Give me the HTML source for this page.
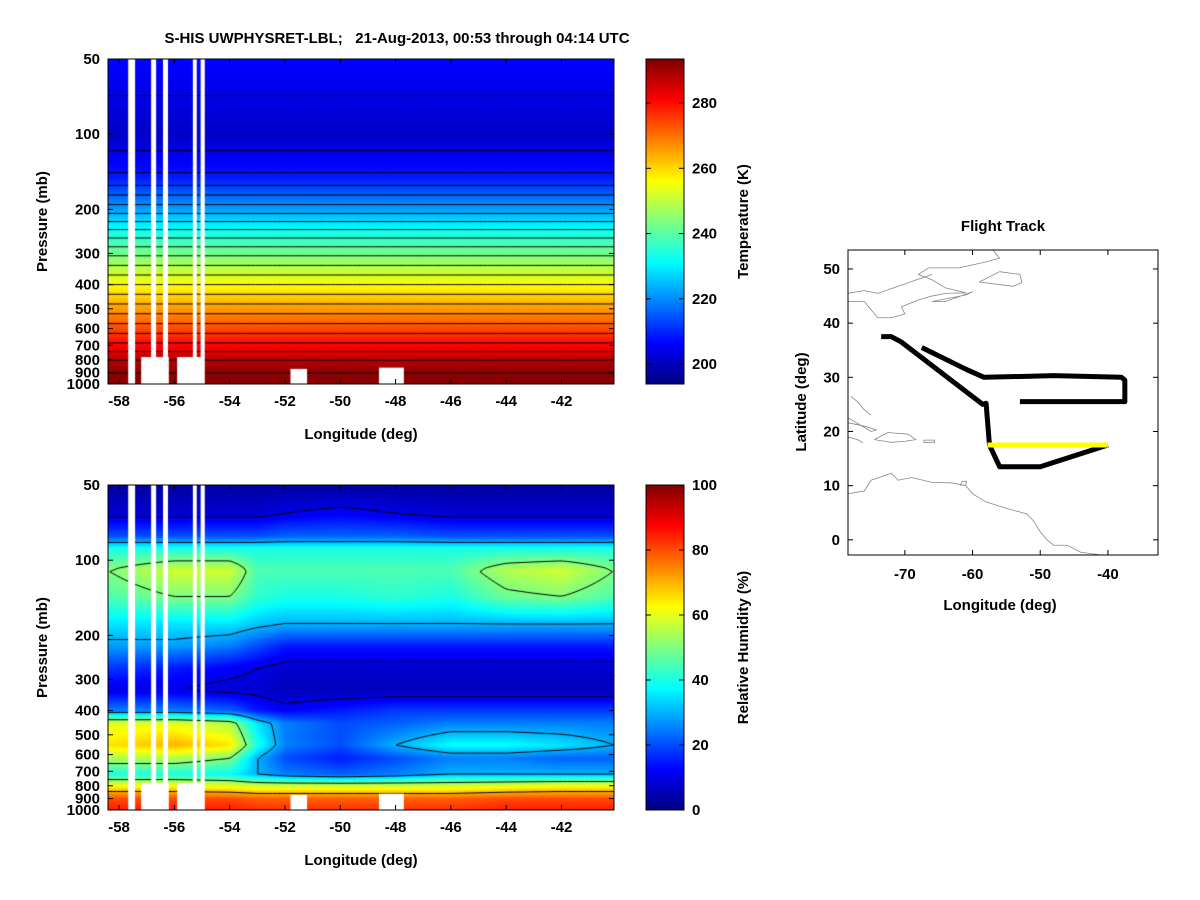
<!DOCTYPE html>
<html><head><meta charset="utf-8"><style>
body{margin:0;background:#fff;width:1200px;height:900px;overflow:hidden;font-family:"Liberation Sans",sans-serif}
canvas{position:absolute}
svg{position:absolute;left:0;top:0}
text{font-family:"Liberation Sans",sans-serif;font-weight:bold;font-size:15px;fill:#000}
</style></head><body>
<canvas id="cT" width="506" height="325" style="left:108px;top:59px"></canvas>
<canvas id="cR" width="506" height="325" style="left:108px;top:485px"></canvas>
<canvas id="cbT" width="38" height="325" style="left:646px;top:59px"></canvas>
<canvas id="cbR" width="38" height="325" style="left:646px;top:485px"></canvas>
<svg id="s" width="1200" height="900"></svg>
<script>
// ---- data ----
const lonCols=[-58.4,-56,-54,-53,-52,-50,-48,-46,-44,-42,-40.1];
const tPress=[50,70,100,150,200,250,300,400,500,600,700,800,900,1000];
const tVals=[207,204,201,209,222,234,243,256,266,274,281,288,292,293];
const rhPress=[50,65,80,90,110,140,180,220,270,330,400,450,550,620,720,800,900,1000];
const rhVals=[
[3,3,3,3,3,3,3,3,3,3,3],
[8,8,8,8,10,12,10,8,8,8,8],
[20,20,20,20,22,22,22,20,20,20,20],
[40,40,40,40,40,40,40,40,40,40,40],
[50,58,58,45,45,45,45,45,55,58,50],
[45,50,50,42,40,40,42,40,48,50,45],
[35,35,35,32,30,30,30,30,30,30,30],
[28,28,25,20,15,15,15,15,15,15,15],
[18,15,12,10,8,8,8,8,8,8,8],
[10,10,8,8,6,6,6,6,6,6,6],
[25,25,22,15,12,15,18,18,18,18,18],
[60,60,55,35,25,20,22,25,25,25,25],
[65,70,65,40,25,20,30,38,38,35,30],
[55,55,50,30,20,15,20,25,25,22,22],
[40,40,38,30,25,22,25,30,30,30,30],
[62,62,60,58,58,58,58,58,60,62,62],
[80,80,80,78,78,78,78,78,80,80,80],
[85,85,85,83,83,83,83,83,85,85,85]];
const pTicks=[50,100,200,300,400,500,600,700,800,900,1000];
const lonTicks=[-58,-56,-54,-52,-50,-48,-46,-44,-42];
const tTicks=[200,220,240,260,280];
const rhTicks=[0,20,40,60,80,100];
const tLevels=[200,204,208,212,216,220,224,228,232,236,240,244,248,252,256,260,264,268,272,276,280,284,288,292];
const rhLevels=[10,30,50,70];
const gapsLon=[[-57.67,-57.42],[-56.84,-56.66],[-56.41,-56.23],[-55.33,-55.19],[-55.05,-54.90]];
const trackA=[[-73.5,37.5],[-72,37.5],[-70.5,36.5],[-58.5,25],[-58,25.2],[-57.5,17.5],[-56,13.5],[-50,13.5],[-40,17.5]];
const trackB=[[-67.5,35.5],[-61,31.5],[-58.3,30],[-48,30.3],[-38,30],[-37.5,29.5],[-37.5,25.5],[-53,25.5]];
const trackY=[[-57.8,17.5],[-40,17.5]];
const coasts=[
[[-78.4,44],[-76,44],[-74,41],[-72,41],[-70,41.7],[-70.5,43],[-68,44.3],[-66,45],[-64,45.5],[-61,45.6],[-64,46.5],[-66,48],[-68,49],[-66.5,50.2],[-62,50.2],[-58,51.3],[-56,52],[-57,53.5]],
[[-64,44],[-66,44],[-61,45.2],[-60,45.8],[-64,44]],
[[-59,47.6],[-56,49.5],[-53,49],[-52.7,47.5],[-54,46.8],[-59,47.6]],
[[-78.4,45.5],[-76,46],[-74,45.5],[-71,46.8],[-66,49]],
[[-78.4,22.5],[-77,21.5],[-75,20],[-74.2,20.3],[-76,21],[-78.4,21.6]],
[[-74.5,18.5],[-72.5,19.8],[-69.5,19.5],[-68.4,18.5],[-70,18.2],[-72,18],[-74.5,18.5]],
[[-67.2,18.4],[-65.6,18.4],[-65.6,18],[-67.2,18],[-67.2,18.4]],
[[-78,26.5],[-77,25.5],[-76,24],[-75,23]],
[[-78.4,19],[-77,18.5],[-76.2,17.9]],
[[-78.4,8.5],[-76,9],[-75,11],[-72,12.3],[-71,11],[-69,11.5],[-66,10.6],[-63,10.5],[-61,10],[-60,8.5],[-58,7],[-55,5.8],[-52,4.8],[-51,3.5],[-50,1.5],[-49,0],[-48,-1],[-46,-1],[-44,-2.3],[-41,-2.8],[-39,-3]],
[[-61.5,10.8],[-60.9,10.8],[-61,10.1],[-61.8,10.1],[-61.5,10.8]]
];
// ---- helpers ----
function jet(t){t=Math.max(0,Math.min(1,t));const c=v=>Math.round(255*Math.max(0,Math.min(1,v)));
return [c(1.5-Math.abs(4*t-3)),c(1.5-Math.abs(4*t-2)),c(1.5-Math.abs(4*t-1))];}
const W=506,H=325,lonMin=-58.4,lonMax=-40.1,lp0=Math.log10(50),lp1=Math.log10(1000);
const xL=l=>(l-lonMin)/(lonMax-lonMin)*W;
const yP=p=>(Math.log10(p)-lp0)/(lp1-lp0)*H;
function bracket(arr,v,f){let i=0;while(i<arr.length-2&&v>arr[i+1])i++;
const a=f?f(arr[i]):arr[i],b=f?f(arr[i+1]):arr[i+1],vv=f?f(v):v;let t=(vv-a)/(b-a);t=Math.max(0,Math.min(1,t));return [i,t];}
function fT(lon,p){const [i,t]=bracket(tPress,p,Math.log);return tVals[i]*(1-t)+tVals[i+1]*t;}
function fR(lon,p){const [i,t]=bracket(rhPress,p,Math.log);const [j,u]=bracket(lonCols,lon);
const a=rhVals[i][j]*(1-u)+rhVals[i][j+1]*u,b=rhVals[i+1][j]*(1-u)+rhVals[i+1][j+1]*u;return a*(1-t)+b*t;}
function paint(id,f,vmin,vmax){const cv=document.getElementById(id),ctx=cv.getContext('2d');const img=ctx.createImageData(W,H);
for(let y=0;y<H;y++){const p=Math.pow(10,lp0+(y+0.5)/H*(lp1-lp0));for(let x=0;x<W;x++){const lon=lonMin+(x+0.5)/W*(lonMax-lonMin);
const c=jet((f(lon,p)-vmin)/(vmax-vmin));const k=(y*W+x)*4;img.data[k]=c[0];img.data[k+1]=c[1];img.data[k+2]=c[2];img.data[k+3]=255;}}
ctx.putImageData(img,0,0);
const levels=id==='cT'?tLevels:rhLevels;const nx=120,ny=90;const G=[];
for(let j=0;j<=ny;j++){G.push([]);const p=Math.pow(10,lp0+j/ny*(lp1-lp0));for(let i=0;i<=nx;i++)G[j].push(f(lonMin+i/nx*(lonMax-lonMin),p));}
ctx.strokeStyle='#000';ctx.lineWidth=1;ctx.beginPath();
const dx=W/nx,dy=H/ny;
for(const L of levels){for(let j=0;j<ny;j++)for(let i=0;i<nx;i++){
const v=[G[j][i],G[j][i+1],G[j+1][i+1],G[j+1][i]];const c=[[i,j],[i+1,j],[i+1,j+1],[i,j+1]];const pts=[];
for(let e=0;e<4;e++){const a=v[e],b=v[(e+1)%4];if((a-L)*(b-L)<0){const t=(L-a)/(b-a);const A=c[e],B=c[(e+1)%4];
pts.push([(A[0]+(B[0]-A[0])*t)*dx,(A[1]+(B[1]-A[1])*t)*dy]);}}
for(let k=0;k+1<pts.length;k+=2){ctx.moveTo(pts[k][0],pts[k][1]);ctx.lineTo(pts[k+1][0],pts[k+1][1]);}}}
ctx.stroke();
ctx.fillStyle='#fff';for(const g of gapsLon){ctx.fillRect(xL(g[0]),0,xL(g[1])-xL(g[0]),H);}
const blobs=[[-57.2,-56.2,780],[-55.9,-55.0,780],[-48.6,-47.7,860],[-51.8,-51.2,870]];
for(const b of blobs){ctx.fillRect(xL(b[0]),yP(b[2]),xL(b[1])-xL(b[0]),H-yP(b[2]));}
}
paint('cT',fT,193.9,293.5);paint('cR',fR,0,100);
function cbar(id){const ctx=document.getElementById(id).getContext('2d');for(let y=0;y<H;y++){const c=jet(1-(y+0.5)/H);ctx.fillStyle=`rgb(${c})`;ctx.fillRect(0,y,38,1);}}
cbar('cbT');cbar('cbR');
// ---- SVG overlay ----
const S=document.getElementById('s'),NS='http://www.w3.org/2000/svg';
function el(tag,attrs,txt){const e=document.createElementNS(NS,tag);for(const k in attrs)e.setAttribute(k,attrs[k]);if(txt!==undefined)e.textContent=txt;S.appendChild(e);return e;}
let e=el('text',{x:397,y:43,'text-anchor':'middle','font-size':16},'S-HIS UWPHYSRET-LBL;   21-Aug-2013, 00:53 through 04:14 UTC');


e.style.whiteSpace='pre';
function panel(top,name,cbTicks,cbMin,cbMax,cbLabel){
const L=108,T=top;
e=el('rect',{x:L,y:T,width:W,height:H,fill:'none',stroke:'#000','stroke-width':1});


for(const p of pTicks){const y=T+yP(p);
el('line',{x1:L,x2:L+5,y1:y,y2:y,stroke:'#000'});el('line',{x1:L+W-5,x2:L+W,y1:y,y2:y,stroke:'#000'});
e=el('text',{x:L-8,y:y+5,'text-anchor':'end'},p);

}
for(const l of lonTicks){const x=L+xL(l);
el('line',{x1:x,x2:x,y1:T+H,y2:T+H-5,stroke:'#000'});el('line',{x1:x,x2:x,y1:T,y2:T+5,stroke:'#000'});
e=el('text',{x:x,y:T+H+22,'text-anchor':'middle'},l);

}
e=el('text',{x:361,y:T+H+55,'text-anchor':'middle','font-size':16},'Longitude (deg)');


e=el('text',{transform:`translate(47,${T+H/2}) rotate(-90)`,'text-anchor':'middle','font-size':16},'Pressure (mb)');


el('rect',{x:646,y:T,width:38,height:H,fill:'none',stroke:'#000'});
for(const v of cbTicks){const y=T+H-(v-cbMin)/(cbMax-cbMin)*H;
el('line',{x1:684,x2:679,y1:y,y2:y,stroke:'#000'});el('line',{x1:646,x2:651,y1:y,y2:y,stroke:'#000'});
e=el('text',{x:692,y:y+5},v);

}
e=el('text',{transform:`translate(748,${T+H/2}) rotate(-90)`,'text-anchor':'middle','font-size':16},cbLabel);


}
panel(59,'temperature',tTicks,193.9,293.5,'Temperature (K)');
panel(485,'humidity',rhTicks,0,100,'Relative Humidity (%)');
// flight track map
const mL=848,mT=250,mW=310,mH=305,mlon0=-78.4,mlon1=-32.6,mlat0=-2.8,mlat1=53.5;
const mx=l=>mL+(l-mlon0)/(mlon1-mlon0)*mW,my=a=>mT+(mlat1-a)/(mlat1-mlat0)*mH;
const cp=el('clipPath',{id:'mclip'});const cr=document.createElementNS(NS,'rect');
cr.setAttribute('x',mL);cr.setAttribute('y',mT);cr.setAttribute('width',mW);cr.setAttribute('height',mH);cp.appendChild(cr);
const cg=el('g',{'clip-path':'url(#mclip)'});
for(const c of coasts){const p=document.createElementNS(NS,'polyline');p.setAttribute('points',c.map(q=>mx(q[0])+','+my(q[1])).join(' '));
p.setAttribute('fill','none');p.setAttribute('stroke','#888');p.setAttribute('stroke-width','0.8');

cg.appendChild(p);}
function track(pts,col,nm){const p=document.createElementNS(NS,'polyline');p.setAttribute('points',pts.map(q=>mx(q[0])+','+my(q[1])).join(' '));
p.setAttribute('fill','none');p.setAttribute('stroke',col);p.setAttribute('stroke-width','5');p.setAttribute('stroke-linejoin','round');

cg.appendChild(p);}
track(trackA,'#000','flight-track-leg-1');track(trackB,'#000','flight-track-leg-2');track(trackY,'#ffff00','flight-track-highlight');
e=el('rect',{x:mL,y:mT,width:mW,height:mH,fill:'none',stroke:'#000'});


for(const l of [-70,-60,-50,-40]){const x=mx(l);el('line',{x1:x,x2:x,y1:mT+mH,y2:mT+mH-5,stroke:'#000'});el('line',{x1:x,x2:x,y1:mT,y2:mT+5,stroke:'#000'});
e=el('text',{x:x,y:mT+mH+24,'text-anchor':'middle'},l);

}
for(const a of [0,10,20,30,40,50]){const y=my(a);el('line',{x1:mL,x2:mL+5,y1:y,y2:y,stroke:'#000'});el('line',{x1:mL+mW,x2:mL+mW-5,y1:y,y2:y,stroke:'#000'});
e=el('text',{x:mL-8,y:y+5,'text-anchor':'end'},a);

}
e=el('text',{x:1003,y:231,'text-anchor':'middle','font-size':16},'Flight Track');


e=el('text',{x:1000,y:610,'text-anchor':'middle','font-size':16},'Longitude (deg)');


e=el('text',{transform:'translate(806,402) rotate(-90)','text-anchor':'middle','font-size':16},'Latitude (deg)');


</script>
</body></html>
